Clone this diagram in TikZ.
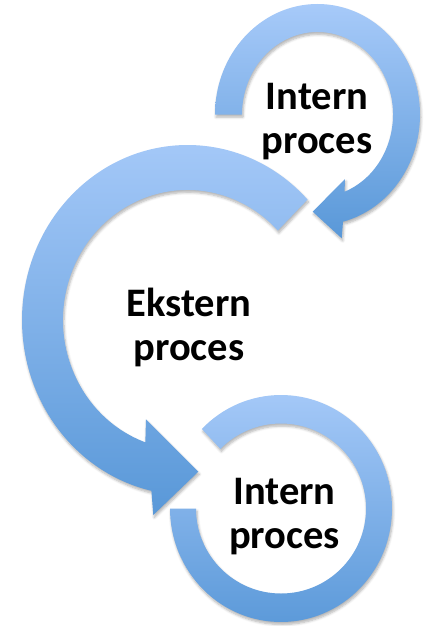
\documentclass[tikz,border=0pt]{standalone}
\usepackage{fontspec}
\setmainfont{Carlito}
\usepackage{tikz}
\usetikzlibrary{calc,shadows.blur}

\definecolor{arrowtop}{RGB}{167,202,249}
\definecolor{arrowbottom}{RGB}{89,152,216}

\tikzset{
	arrowbody/.style={top color=arrowtop, bottom color=arrowbottom, draw=none,
		blur shadow={shadow xshift=1pt, shadow yshift=-2.5pt, shadow blur steps=6,
			shadow blur radius=2.5pt, shadow opacity=30}},
	proclabel/.style={font=\bfseries\fontsize{40.5}{44}\selectfont, align=center,
		inner sep=0pt, text=black}
}

\begin{document}
\begin{tikzpicture}[x=1pt, y=-1pt]
	\useasboundingbox (0,0) rectangle (427,626);

	% Centres {cA, cB, cC}
	\coordinate (cA) at (317.5,114.6);
	\coordinate (cB) at (187.5,320);
	\coordinate (cC) at (281,508.5);

	% Lower ring, no head
	\path [arrowbody] ($(cC)+(224.5:111 and 113.5)$)
		arc [start angle=224.5, end angle=540, x radius=111, y radius=113.5]
		-- ($(cC)+(540:85 and 85)$)
		arc [start angle=540, end angle=224.5, x radius=85, y radius=85]
		-- cycle;

	% Big arrow, head at the bottom
	\path [arrowbody] ($(cB)+(316.5:165.5 and 175)$)
		arc [start angle=316.5, end angle=102.6, x radius=165.5, y radius=175]
		-- (153.3,515) -- (198.3,471.7) -- (146,419.3)
		-- ($(cB)+(109.8:124.5 and 130)$)
		arc [start angle=109.8, end angle=316.5, x radius=124.5, y radius=130]
		-- cycle;

	% Top arrow, head at the bottom right
	\path [arrowbody] ($(cA)+(180:102.5 and 110.6)$)
		arc [start angle=180, end angle=435.6, x radius=102.5, y radius=110.6]
		-- (341.7,238.3) -- (312.7,211.7) -- (345,179)
		-- ($(cA)+(429:75.5 and 82.6)$)
		arc [start angle=429, end angle=180, x radius=75.5, y radius=82.6]
		-- cycle;

	% Labels
	\node [proclabel] (intern1) at (317,122) {Intern\\proces};
	\node [proclabel] (ekstern) at (189,327) {Ekstern\\proces};
	\node [proclabel] (intern2) at (284.5,517) {Intern\\proces};

\end{tikzpicture}
\end{document}
